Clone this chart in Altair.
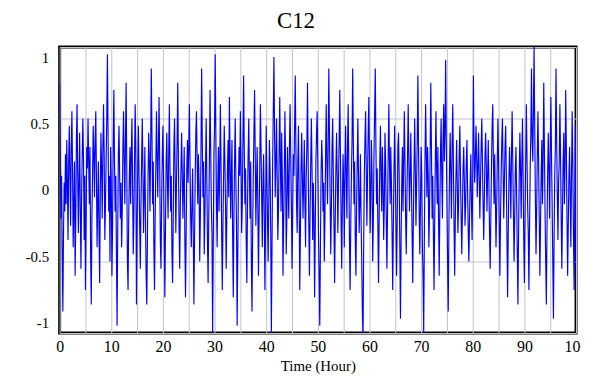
import altair as alt
import pandas as pd

# Signal values, one sample every 0.125 hour
# (each row covers 2.5 hours)
c12_h00_25 = [
    0.75, 0.3, -0.2, 0.1, -0.45, -0.85, -0.3, 0.05, -0.15, 0.25, -0.1, 0.35, 0.05, -0.35, 0.2, 0.45, 0.1, -0.25, 0.3, 0.55,
    0.15, -0.4, -0.1, 0.2, -0.6, -0.2, 0.35, 0.6, 0.1, -0.3, 0.05, 0.4, -0.15, -0.55, -0.05, 0.25, 0.5, 0.2, -0.35, 0.1,
    -0.7, -0.25, 0.3, 0.15, 0.5, 0.2, -0.1, 0.3, -0.45, -0.8, -0.2, 0.1, 0.45, 0.25, -0.05, 0.35, 0.55, 0.1, -0.4, -0.1,
    0.2, -0.3, -0.65, 0.0, 0.4, 0.15, -0.2, 0.3, 0.6, 0.25, -0.35, -0.1, 0.2, 0.5, 0.95, 0.4, -0.15, 0.1, -0.5, 0.3,
    0.05, -0.6, -0.25, 0.35, 0.7, 0.2, -0.15, 0.1, -0.45, -0.95, -0.3, 0.25, 0.45, 0.1, -0.2, 0.05, -0.4, -0.15, 0.3, 0.55,
    0.2, -0.1, 0.35, 0.75, 0.15, -0.5, -0.7, -0.2, 0.1, 0.3, -0.1, 0.25, 0.5, 0.05, -0.45, -0.2, 0.2, 0.6, 0.3, -0.8,
    -0.3, 0.15, 0.45, 0.1, -0.25, -0.55, -0.1, 0.2, 0.5, 0.15, -0.3, -0.05, 0.3, -0.2, -0.6, -0.8, -0.35, 0.1, 0.4, 0.2,
    -0.15, 0.3, 0.85, 0.4, -0.1, 0.2, -0.4, -0.7, -0.2, 0.15, 0.55, 0.25, -0.05, 0.3, 0.65, 0.2, -0.35, -0.55, -0.1, 0.25,
    0.45, 0.1, -0.3, -0.75, -0.25, 0.2, 0.4, 0.05, -0.2, 0.25, 0.6, 0.15, -0.15, 0.1, -0.45, -0.65, -0.2, 0.3, 0.5, 0.1,
    -0.3, 0.05, 0.35, 0.75, 0.2, -0.25, -0.55, -0.1, 0.15, 0.4, 0.1, -0.2, 0.05, 0.3, -0.35, -0.75, -0.3, 0.15, 0.35, 0.05,
]
c12_h25_50 = [
    0.3, 0.6, 0.2, -0.2, -0.4, -0.1, 0.15, -0.3, -0.8, -0.35, 0.1, 0.4, 0.55, 0.2, -0.1, 0.25, 0.05, -0.5, -0.2, 0.3,
    0.85, 0.35, -0.05, 0.2, -0.45, -0.2, 0.15, 0.5, 0.1, -0.35, -0.65, -0.2, 0.2, 0.7, 0.3, -0.1, -0.3, -1.0, -0.4, 0.25,
    0.45, 0.95, 0.4, -0.1, -0.4, 0.05, 0.3, -0.15, 0.15, 0.6, 0.2, -0.3, -0.7, -0.25, 0.1, 0.45, 0.2, -0.1, -0.55, -0.2,
    0.15, 0.35, -0.05, 0.65, 0.25, -0.2, 0.1, 0.35, -0.3, -0.75, -0.2, 0.2, 0.5, 0.1, -0.25, -0.95, -0.45, 0.05, 0.3, 0.1,
    0.55, 0.2, -0.3, -0.1, 0.35, 0.8, 0.3, -0.1, 0.15, -0.35, -0.65, -0.15, 0.25, 0.5, 0.1, -0.2, 0.2, -0.5, -0.85, -0.3,
    0.1, 0.4, 0.7, 0.25, -0.25, 0.05, 0.3, -0.1, -0.6, -0.2, 0.15, 0.6, 0.3, -0.05, -0.4, 0.05, 0.25, -0.15, -0.7, -0.25,
    0.45, 0.1, -0.2, -0.5, -0.1, 0.35, 0.15, -0.3, -1.0, -0.4, 0.2, 0.55, 0.93, 0.4, -0.05, 0.2, 0.5, 0.1, -0.35, -0.15,
    0.25, 0.65, 0.2, -0.15, 0.4, 0.1, -0.6, -0.25, 0.1, 0.55, 0.2, -0.45, -0.2, 0.3, 0.05, -0.2, 0.3, 0.6, 0.25, -0.1,
    -0.55, -0.2, 0.25, 0.1, 0.45, 0.8, 0.3, -0.1, -0.3, 0.2, 0.45, -0.05, -0.7, -0.3, 0.15, 0.4, 0.1, -0.2, 0.05, 0.35,
    -0.1, -0.4, 0.1, 0.3, 0.75, 0.2, -0.25, -0.6, -0.15, 0.2, 0.5, 0.15, -0.35, 0.05, -0.2, -0.75, -0.3, 0.2, 0.4, 0.55,
]
c12_h50_75 = [
    0.15, -0.3, -0.6, -0.95, -0.4, 0.1, 0.35, 0.2, -0.15, 0.05, -0.5, -0.2, 0.25, 0.6, 0.2, -0.1, 0.3, 0.85, 0.4, -0.05,
    -0.45, -0.15, 0.3, 0.5, 0.1, -0.25, -0.65, -0.2, 0.15, 0.4, 0.1, -0.3, 0.05, 0.35, 0.7, 0.25, -0.2, -0.55, -0.1, 0.25,
    0.05, -0.4, 0.15, 0.45, 0.1, -0.2, 0.3, 0.6, 0.15, -0.35, -0.7, -0.25, 0.1, 0.35, 0.85, 0.35, -0.1, 0.2, -0.35, -0.6,
    -0.15, 0.2, 0.5, 0.1, -0.3, -0.1, 0.25, -0.2, -0.5, -0.85, -1.05, -0.4, 0.1, 0.35, 0.55, 0.15, -0.25, 0.1, 0.4, 0.65,
    0.2, -0.3, -0.05, 0.35, 0.1, -0.5, -0.2, 0.25, 0.55, 0.85, 0.3, -0.1, 0.15, -0.25, -0.65, -0.2, 0.2, 0.45, 0.1, -0.15,
    0.3, 0.05, -0.35, -0.1, 0.4, 0.2, -0.2, -0.55, -0.15, 0.25, 0.6, 0.2, -0.1, 0.3, 0.05, -0.3, -0.7, -0.25, 0.15, 0.45,
    0.1, -0.25, -0.6, -0.2, 0.3, 0.4, 0.1, -0.4, -0.9, -0.35, 0.05, 0.3, -0.15, 0.2, 0.55, 0.2, -0.2, -0.45, -0.05, 0.25,
    0.6, 0.2, -0.15, 0.1, 0.4, 0.05, -0.3, -0.65, -0.2, 0.15, 0.5, 0.15, -0.25, 0.05, 0.35, 0.8, 0.3, -0.15, -0.45, -0.1,
    0.3, 0.1, -0.4, -0.6, -1.0, -0.35, 0.2, 0.6, 0.25, -0.05, 0.3, 0.1, -0.4, -0.15, 0.25, 0.75, 0.3, -0.2, 0.1, -0.3,
    -0.7, -0.25, 0.2, 0.55, 0.15, -0.1, 0.3, -0.2, -0.6, -0.15, 0.25, 0.5, 0.1, -0.2, 0.35, 0.6, 0.2, 0.4, 0.91, 0.35,
]
c12_h75_100 = [
    -0.1, -0.5, -0.85, -0.3, 0.15, 0.4, 0.1, -0.2, 0.3, 0.6, 0.2, -0.25, -0.6, -0.2, 0.1, 0.35, 0.05, -0.3, -0.1, 0.25,
    0.45, 0.1, -0.2, -0.45, -0.15, 0.15, 0.3, 0.05, -0.25, -0.1, 0.2, 0.35, 0.0, -0.3, -0.5, -0.2, 0.05, 0.25, -0.1, -0.35,
    0.1, 0.8, 0.3, 0.05, 0.2, 0.45, 0.25, -0.05, 0.15, 0.4, 0.1, -0.2, 0.05, 0.3, 0.5, 0.2, -0.1, -0.35, -0.05, 0.25,
    0.4, 0.15, -0.15, 0.1, 0.35, 0.05, -0.3, -0.55, -0.2, 0.15, 0.45, 0.6, 0.2, -0.1, 0.25, -0.05, -0.4, -0.15, 0.2, 0.5,
    0.2, -0.25, -0.6, -0.2, 0.1, 0.35, 0.5, 0.15, -0.2, 0.05, 0.3, 0.45, 0.1, -0.35, -0.75, -0.3, 0.05, 0.3, 0.1, -0.2,
    0.25, 0.55, 0.2, -0.15, -0.5, -0.2, 0.15, 0.3, -0.05, -0.45, -0.8, -0.3, 0.1, 0.4, 0.15, -0.2, 0.2, 0.5, 0.1, -0.35,
    -0.65, -0.2, 0.2, 0.6, 0.25, -0.1, -0.3, -0.7, -0.25, 0.15, 0.4, 0.85, 0.35, 0.2, 0.55, 1.0, 0.45, -0.05, -0.45, -0.15,
    0.25, 0.55, 0.2, -0.2, -0.6, -0.25, 0.1, 0.35, -0.1, 0.2, 0.75, 0.3, -0.15, -0.5, -0.8, -0.3, 0.1, 0.4, 0.15, -0.2,
    0.3, 0.65, 0.25, -0.1, -0.5, -0.9, -0.35, 0.1, 0.3, 0.85, 0.35, -0.05, -0.35, 0.05, 0.2, 0.6, 0.25, -0.2, -0.55, -0.15,
    0.2, 0.4, -0.1, 0.15, 0.7, 0.3, -0.2, -0.6, -0.25, 0.1, 0.3, -0.05, -0.4, 0.1, 0.55, 0.2, -0.3, -0.7, -0.2, 0.45,
    -0.55,
]

x_ticks = [0, 5, 10, 15, 20, 25, 30, 35, 40, 45, 50, 55, 60, 65, 70, 75, 80, 85, 90, 95, 100]
y_ticks = [1, 0.5, 0, -0.5, -1]

values = c12_h00_25 + c12_h25_50 + c12_h50_75 + c12_h75_100
step = 0.125
df = pd.DataFrame({"t": [i * step for i in range(len(values))], "v": values})

serif = "Liberation Serif"

chart = (
    alt.Chart(df)
    .mark_line(color="#0000ff", strokeWidth=1.15, clip=True)
    .encode(
        x=alt.X(
            "t:Q",
            scale=alt.Scale(domain=[0, 100], nice=False),
            axis=alt.Axis(
                title="Time (Hour)",
                values=x_ticks,
                labelExpr="datum.value % 10 == 0 ? datum.label : ''",
                grid=True,
                gridColor="#c4c4c4",
                gridWidth=1,
                ticks=False,
                domain=False,
                labelFont=serif,
                labelFontSize=16,
                labelColor="black",
                labelPadding=6,
                labelFlush=False,
                labelOverlap=False,
                titleFont=serif,
                titleFontSize=15,
                titleFontWeight="normal",
                titleColor="black",
                titlePadding=4,
            ),
        ),
        y=alt.Y(
            "v:Q",
            scale=alt.Scale(domain=[-1, 1], nice=False),
            axis=alt.Axis(
                title=None,
                values=y_ticks,
                labelExpr="'' + datum.value",
                grid=True,
                gridColor="#c4c4c4",
                gridWidth=1,
                ticks=False,
                domain=False,
                labelFont=serif,
                labelFontSize=15,
                labelColor="black",
                labelPadding=11,
                labelFlush=False,
                labelOverlap=False,
                labelOffset={"expr": "datum.value * 11"},
            ),
        ),
    )
    .properties(
        width=520,
        height=288,
        autosize="none",
        background="white",
        padding={"left": 52, "top": 38, "right": 5, "bottom": 40},
        title=alt.TitleParams(
            "C12",
            font=serif,
            fontSize=23,
            fontWeight="normal",
            color="black",
            anchor="middle",
            frame="group",
            dx=-22,
            offset=14,
        ),
    )
    .configure_view(stroke="black", strokeWidth=3)
)

chart.save("out.html", embed_options={"renderer": "svg", "actions": False})
